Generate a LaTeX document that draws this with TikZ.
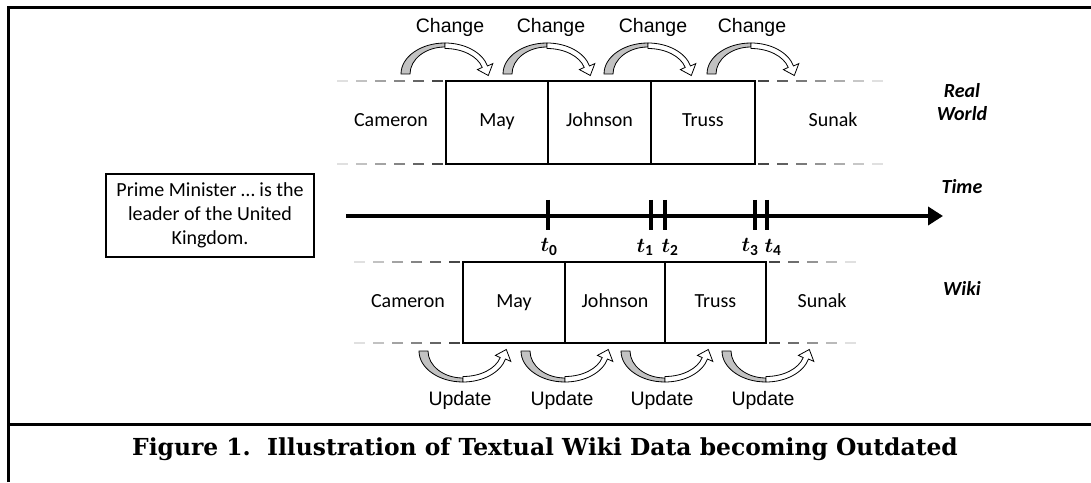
\documentclass[tikz,border=0pt]{standalone}
\usepackage{amsmath}
\usepackage{fontspec}
\setmainfont{Carlito}
\newfontfamily\arialf{Liberation Sans}
\newfontfamily\capfont{DejaVu Serif}
\usetikzlibrary{arrows.meta}
\tikzset{
  frameline/.style={line width=3pt},
  cell/.style={draw, line width=2.4pt, inner sep=0pt, outer sep=0pt, text height=13pt, text depth=4pt, font=\fontsize{20}{24}\selectfont},
  pmname/.style={font=\fontsize{20}{24}\selectfont, inner sep=0pt, text height=13pt, text depth=4pt},
  arrlbl/.style={font=\arialf\fontsize{19.5}{23}\selectfont, inner sep=0pt},
  sidelbl/.style={font=\fontsize{20}{23}\selectfont\bfseries\itshape, inner sep=0pt, align=center},
  tlbl/.style={font=\fontsize{22}{26}\selectfont, inner sep=0pt},
  tickline/.style={line width=3.5pt},
  dashseg/.style={line width=2.4pt},
  bendarrow/.pic={
    \filldraw[fill=black!24, draw=black, line width=0.8pt]
      (-44,0) arc[start angle=180,end angle=90,x radius=44,y radius=31]
      -- (0,27) arc[start angle=90,end angle=180,x radius=35,y radius=27] -- cycle;
    \filldraw[fill=white, draw=black, line width=0.8pt]
      (0,31) arc[start angle=90,end angle=15,x radius=44,y radius=31]
      -- (47.8,10.4) -- (43.3,-1.5) -- (32.4,4.4) -- (37.2,6.6)
      arc[start angle=15,end angle=90,x radius=38.5,y radius=25.5] -- cycle;
  }
}
\begin{document}
\begin{tikzpicture}[x=1pt,y=1pt]
\useasboundingbox (0,0) rectangle (1091,482);
% frame
\coordinate (fbl) at (8,0);
\coordinate (ftl) at (8,474);
\coordinate (ftr) at (1091,474);
\coordinate (sepl) at (8,58);
\coordinate (sepr) at (1091,58);
\draw[frameline] (fbl) -- (ftl) -- (ftr);
\draw[frameline] (sepl) -- (sepr);

% ---------- Real world row ----------
\node[cell, minimum width=102pt, minimum height=83pt] (rMay) at (497,359.5) {May};
\node[cell, minimum width=103pt, minimum height=83pt] (rJoh) at (599.5,359.5) {Johnson};
\node[cell, minimum width=104pt, minimum height=83pt] (rTru) at (703,359.5) {Truss};
\node[pmname] (rCam) at (391,359.5) {Cameron};
\node[pmname] (rSun) at (833,359.5) {Sunak};
\foreach \k in {0,...,5}{
  \pgfmathtruncatemacro\c{72-\k*12}
  \draw[dashseg, black!\c] ([xshift={(-3-19*\k)*1pt}]rMay.north west) -- ([xshift={(-14-19*\k)*1pt}]rMay.north west);
  \draw[dashseg, black!\c] ([xshift={(-3-19*\k)*1pt}]rMay.south west) -- ([xshift={(-14-19*\k)*1pt}]rMay.south west);
}
\foreach \k in {0,...,6}{
  \pgfmathtruncatemacro\c{72-\k*10}
  \draw[dashseg, black!\c] ([xshift={(3+19*\k)*1pt}]rTru.north east) -- ([xshift={(14+19*\k)*1pt}]rTru.north east);
  \draw[dashseg, black!\c] ([xshift={(3+19*\k)*1pt}]rTru.south east) -- ([xshift={(14+19*\k)*1pt}]rTru.south east);
}

% Change arrows
\pic at (445,408) {bendarrow};
\pic at (547,408) {bendarrow};
\pic at (648,408) {bendarrow};
\pic at (751,408) {bendarrow};
\node[arrlbl] (ch1) at (450,455) {Change};
\node[arrlbl] (ch2) at (551,455) {Change};
\node[arrlbl] (ch3) at (653,455) {Change};
\node[arrlbl] (ch4) at (752,455) {Change};

% ---------- Time axis ----------
\coordinate (ax0) at (346,266);
\coordinate (ax1) at (943,266);
\draw[line width=4pt, -{Triangle[length=15pt,width=18pt]}] (ax0) -- (ax1);
\coordinate (tk0) at (548,266);
\coordinate (tk1) at (651,266);
\coordinate (tk2) at (665,266);
\coordinate (tk3) at (755,266);
\coordinate (tk4) at (767,266);
\foreach \t in {tk0,tk1,tk2,tk3,tk4}{
  \draw[tickline] ([yshift=16pt]\t) -- ([yshift=-14pt]\t);
}
\node[tlbl] (lt0) at (549,235) {$\boldsymbol{t}_{\mathbf{0}}$};
\node[tlbl] (lt1) at (645,235) {$\boldsymbol{t}_{\mathbf{1}}$};
\node[tlbl] (lt2) at (670,235) {$\boldsymbol{t}_{\mathbf{2}}$};
\node[tlbl] (lt3) at (750,235) {$\boldsymbol{t}_{\mathbf{3}}$};
\node[tlbl] (lt4) at (773,235) {$\boldsymbol{t}_{\mathbf{4}}$};

% statement box
\node[draw, line width=2pt, align=center, inner sep=0pt,
      minimum width=208pt, minimum height=83pt,
      font=\fontsize{20}{23.8}\selectfont] (pm) at (210,266.5)
      {Prime Minister … is the\\leader of the United\\Kingdom.};

% ---------- Wiki row ----------
\node[cell, minimum width=102pt, minimum height=81pt] (wMay) at (514,179.5) {May};
\node[cell, minimum width=100pt, minimum height=81pt] (wJoh) at (615,179.5) {Johnson};
\node[cell, minimum width=101pt, minimum height=81pt] (wTru) at (715.5,179.5) {Truss};
\node[pmname] (wCam) at (408,179.5) {Cameron};
\node[pmname] (wSun) at (822,179.5) {Sunak};
\foreach \k in {0,...,5}{
  \pgfmathtruncatemacro\c{72-\k*12}
  \draw[dashseg, black!\c] ([xshift={(-3-19*\k)*1pt}]wMay.north west) -- ([xshift={(-14-19*\k)*1pt}]wMay.north west);
  \draw[dashseg, black!\c] ([xshift={(-3-19*\k)*1pt}]wMay.south west) -- ([xshift={(-14-19*\k)*1pt}]wMay.south west);
}
\foreach \k in {0,...,4}{
  \pgfmathtruncatemacro\c{72-\k*15}
  \draw[dashseg, black!\c] ([xshift={(3+19*\k)*1pt}]wTru.north east) -- ([xshift={(14+19*\k)*1pt}]wTru.north east);
  \draw[dashseg, black!\c] ([xshift={(3+19*\k)*1pt}]wTru.south east) -- ([xshift={(14+19*\k)*1pt}]wTru.south east);
}

% Update arrows
\pic[yscale=-1] at (463,131) {bendarrow};
\pic[yscale=-1] at (565,131) {bendarrow};
\pic[yscale=-1] at (665,131) {bendarrow};
\pic[yscale=-1] at (766,131) {bendarrow};
\node[arrlbl] (up1) at (460,82) {Update};
\node[arrlbl] (up2) at (562,82) {Update};
\node[arrlbl] (up3) at (662,82) {Update};
\node[arrlbl] (up4) at (763,82) {Update};

% side labels
\node[sidelbl] (rw) at (962,380) {Real\\World};
\node[sidelbl] (tm) at (962,295) {Time};
\node[sidelbl] (wk) at (962,194) {Wiki};

% caption
\node[font=\capfont\bfseries\fontsize{23.4}{28}\selectfont, inner sep=0pt] (cap) at (545,33)
  {Figure 1.\ \ Illustration of Textual Wiki Data becoming Outdated};
\end{tikzpicture}
\end{document}
